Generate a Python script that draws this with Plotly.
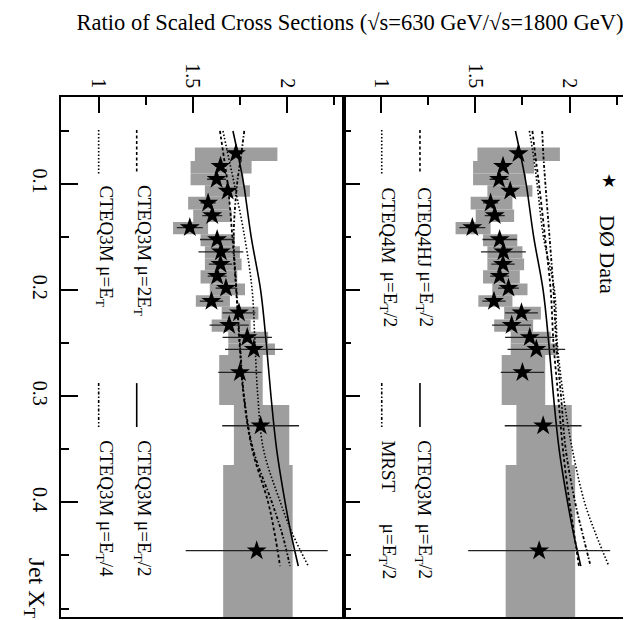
import plotly.graph_objects as go
from plotly.subplots import make_subplots

# D0 data: ratio of scaled cross sections vs jet x_T
XT = [0.0713, 0.0832, 0.0955, 0.1065, 0.1178, 0.1297, 0.1410, 0.1523, 0.1639, 0.1755,
      0.1868, 0.1981, 0.2104, 0.2214, 0.2330, 0.2445, 0.2558, 0.2775, 0.3278, 0.4455]
RATIO = [1.729, 1.647, 1.626, 1.685, 1.581, 1.603, 1.484, 1.629, 1.649, 1.647,
         1.629, 1.676, 1.599, 1.745, 1.693, 1.789, 1.824, 1.750, 1.860, 1.839]
STAT = [0.02, 0.03, 0.05, 0.03, 0.04, 0.053, 0.069, 0.091, 0.119, 0.062,
        0.05, 0.055, 0.062, 0.087, 0.104, 0.131, 0.153, 0.115, 0.204, 0.377]
SYS_LO = [1.511, 1.488, 1.488, 1.564, 1.475, 1.502, 1.395, 1.541, 1.564, 1.564,
          1.541, 1.590, 1.516, 1.653, 1.600, 1.688, 1.688, 1.640, 1.718, 1.661]
SYS_HI = [1.949, 1.812, 1.768, 1.803, 1.697, 1.706, 1.581, 1.723, 1.750, 1.759,
          1.736, 1.777, 1.697, 1.848, 1.807, 1.900, 1.936, 1.871, 2.012, 2.030]
BIN_LO = [0.0656, 0.0782, 0.0901, 0.1011, 0.1121, 0.1240, 0.1357, 0.1473, 0.1586, 0.1702,
          0.1812, 0.1937, 0.2047, 0.2157, 0.2276, 0.2393, 0.2502, 0.2612, 0.3083, 0.3648]
BIN_HI = [0.0782, 0.0901, 0.1011, 0.1121, 0.1240, 0.1357, 0.1473, 0.1586, 0.1702, 0.1812,
          0.1937, 0.2047, 0.2157, 0.2276, 0.2393, 0.2502, 0.2612, 0.3083, 0.3648, 0.5100]

# theory curves
XT_CURVE = [0.05, 0.075, 0.1, 0.15, 0.2, 0.25, 0.3, 0.35, 0.4, 0.43, 0.46]
CTEQ3M_ET2 = [1.713, 1.743, 1.770, 1.810, 1.860, 1.890, 1.915, 1.945, 1.990, 2.022, 2.060]
CTEQ3M_2ET = [1.644, 1.665, 1.685, 1.710, 1.730, 1.748, 1.770, 1.815, 1.900, 1.935, 1.963]
CTEQ3M_ET = [1.660, 1.690, 1.720, 1.775, 1.815, 1.830, 1.845, 1.875, 1.965, 2.030, 2.113]
CTEQ3M_ET4 = [1.773, 1.755, 1.735, 1.717, 1.732, 1.750, 1.772, 1.820, 1.920, 1.975, 2.016]
CTEQ4HJ_ET2 = [1.803, 1.820, 1.838, 1.870, 1.900, 1.915, 1.940, 1.965, 2.000, 2.025, 2.050]
CTEQ4M_ET2 = [1.787, 1.810, 1.828, 1.862, 1.920, 1.935, 1.968, 2.015, 2.080, 2.140, 2.209]
MRST_ET2 = [1.855, 1.862, 1.872, 1.894, 1.915, 1.930, 1.955, 1.980, 2.030, 2.070, 2.112]

XT_TICKS = [0.1, 0.2, 0.3, 0.4]
RATIO_TICKS = [1, 1.5, 2]

FONT = "Liberation Serif"
DASH = "3px,2.5px"
DOT = "1.5px,2px"
DASHDOT = "3px,2px,1.5px,2px"

fig = make_subplots(rows=1, cols=2, horizontal_spacing=0)

bin_mid = [(a + b) / 2 for a, b in zip(BIN_LO, BIN_HI)]
bin_w = [b - a for a, b in zip(BIN_LO, BIN_HI)]
sys_w = [b - a for a, b in zip(SYS_LO, SYS_HI)]

left_curves = [
    (CTEQ3M_2ET, DASH, 1.8),
    (CTEQ3M_ET, DOT, 1.6),
    (CTEQ3M_ET2, "solid", 1.6),
    (CTEQ3M_ET4, DASHDOT, 1.8),
]
right_curves = [
    (CTEQ4HJ_ET2, DASH, 1.8),
    (CTEQ4M_ET2, DOT, 1.6),
    (CTEQ3M_ET2, "solid", 1.6),
    (MRST_ET2, DASHDOT, 1.8),
]

for col, curves in [(1, left_curves), (2, right_curves)]:
    # systematic error boxes
    fig.add_trace(go.Bar(
        y=bin_mid, x=sys_w, base=SYS_LO, width=bin_w, orientation="h",
        marker=dict(color="#9e9e9e", line=dict(width=0)),
        hoverinfo="skip",
    ), row=1, col=col)
    for vals, dash, w in curves:
        fig.add_trace(go.Scatter(
            x=vals, y=XT_CURVE, mode="lines", line_shape="spline",
            line=dict(color="black", width=w, dash=dash),
        ), row=1, col=col)
    # data with statistical errors
    fig.add_trace(go.Scatter(
        x=RATIO, y=XT, mode="markers",
        marker=dict(symbol="star", size=15, color="black"),
        error_x=dict(type="data", array=STAT, color="#222222", thickness=1.3, width=0),
    ), row=1, col=col)

axis_common = dict(
    showgrid=False, zeroline=False, showline=True, linecolor="black", linewidth=1.5,
    mirror=True, ticks="inside", tickcolor="black", tickwidth=1.5, automargin=False,
    tickfont=dict(family=FONT, size=20, color="black"), tickangle=90,
)
for col in (1, 2):
    xa = "xaxis" if col == 1 else "xaxis2"
    ya = "yaxis" if col == 1 else "yaxis2"
    fig.update_layout({
        xa: dict(axis_common, range=[0.8, 2.3], side="top", tickvals=RATIO_TICKS,
                 ticktext=[str(v) for v in RATIO_TICKS], ticklen=16,
                 minor=dict(dtick=0.25, tick0=1, ticklen=8, ticks="inside",
                            tickcolor="black", tickwidth=1.5)),
        ya: dict(axis_common, range=[0.508, 0.018], tickvals=XT_TICKS,
                 ticktext=[str(v) for v in XT_TICKS], ticklen=17,
                 showticklabels=(col == 1), ticklabelstandoff=2,
                 minor=dict(dtick=0.05, tick0=0, ticklen=8, ticks="inside",
                            tickcolor="black", tickwidth=1.5)),
    })
fig.update_layout(xaxis_domain=[0, 0.5], xaxis2_domain=[0.5, 1.0])

# legend keys
keys = [
    ("x", "y", 1.202, DASH, 0.049, 0.090),
    ("x", "y", 1.0, DOT, 0.049, 0.090),
    ("x", "y", 1.202, "solid", 0.2876, 0.329),
    ("x", "y", 1.0, DASHDOT, 0.2876, 0.329),
    ("x2", "y2", 1.206, DASH, 0.049, 0.090),
    ("x2", "y2", 1.003, DOT, 0.049, 0.090),
    ("x2", "y2", 1.206, "solid", 0.2876, 0.329),
    ("x2", "y2", 1.003, DASHDOT, 0.2876, 0.329),
]
for xr, yr, xv, dash, y0, y1 in keys:
    fig.add_shape(type="line", xref=xr, yref=yr, x0=xv, x1=xv, y0=y0, y1=y1,
                  line=dict(color="black", width=1.6, dash=dash))

labels = [
    ("x", "y", 1.234, 0.0993, "CTEQ3M μ=2E<sub>T</sub>"),
    ("x", "y", 1.035, 0.0993, "CTEQ3M μ=E<sub>T</sub>"),
    ("x", "y", 1.234, 0.3394, "CTEQ3M μ=E<sub>T</sub>/2"),
    ("x", "y", 1.035, 0.3394, "CTEQ3M μ=E<sub>T</sub>/4"),
    ("x2", "y2", 1.232, 0.101, "CTEQ4HJ"),
    ("x2", "y2", 1.040, 0.101, "CTEQ4M"),
    ("x2", "y2", 1.232, 0.181, "μ=E<sub>T</sub>/2"),
    ("x2", "y2", 1.040, 0.181, "μ=E<sub>T</sub>/2"),
    ("x2", "y2", 1.232, 0.3394, "CTEQ3M"),
    ("x2", "y2", 1.040, 0.3394, "MRST"),
    ("x2", "y2", 1.232, 0.4185, "μ=E<sub>T</sub>/2"),
    ("x2", "y2", 1.040, 0.4185, "μ=E<sub>T</sub>/2"),
    ("x2", "y2", 2.205, 0.127, "DØ Data"),
]
for xr, yr, xv, yv, txt in labels:
    size = 22 if txt.startswith("D") else 19
    fig.add_annotation(x=xv, y=yv, xref=xr, yref=yr, text=txt, showarrow=False,
                       textangle=90, xanchor="center", yanchor="top",
                       font=dict(family=FONT, size=size, color="black"))

fig.add_annotation(x=2.209, y=0.0966, xref="x2", yref="y2", text="★", showarrow=False,
                   font=dict(family="DejaVu Sans", size=18, color="black"))

fig.add_annotation(x=-0.046, y=0.118, xref="paper", yref="paper", text="Jet X<sub>T</sub>",
                   showarrow=False, textangle=90, xanchor="center", yanchor="top",
                   font=dict(family=FONT, size=24, color="black"))

# page body adds an 8px offset, so the figure is sized to land on the reference frame
fig.update_layout(
    width=623, height=612,
    margin=dict(l=53, r=5, t=89, b=3),
    plot_bgcolor="white", paper_bgcolor="white",
    showlegend=False, barmode="overlay",
    title=dict(text="Ratio of Scaled Cross Sections (√s=630 GeV/√s=1800 GeV)",
               x=0.549, xanchor="center", y=0.977, yanchor="middle", yref="container",
               font=dict(family=FONT, size=22.5, color="black")),
)

fig.write_html("out.html")
